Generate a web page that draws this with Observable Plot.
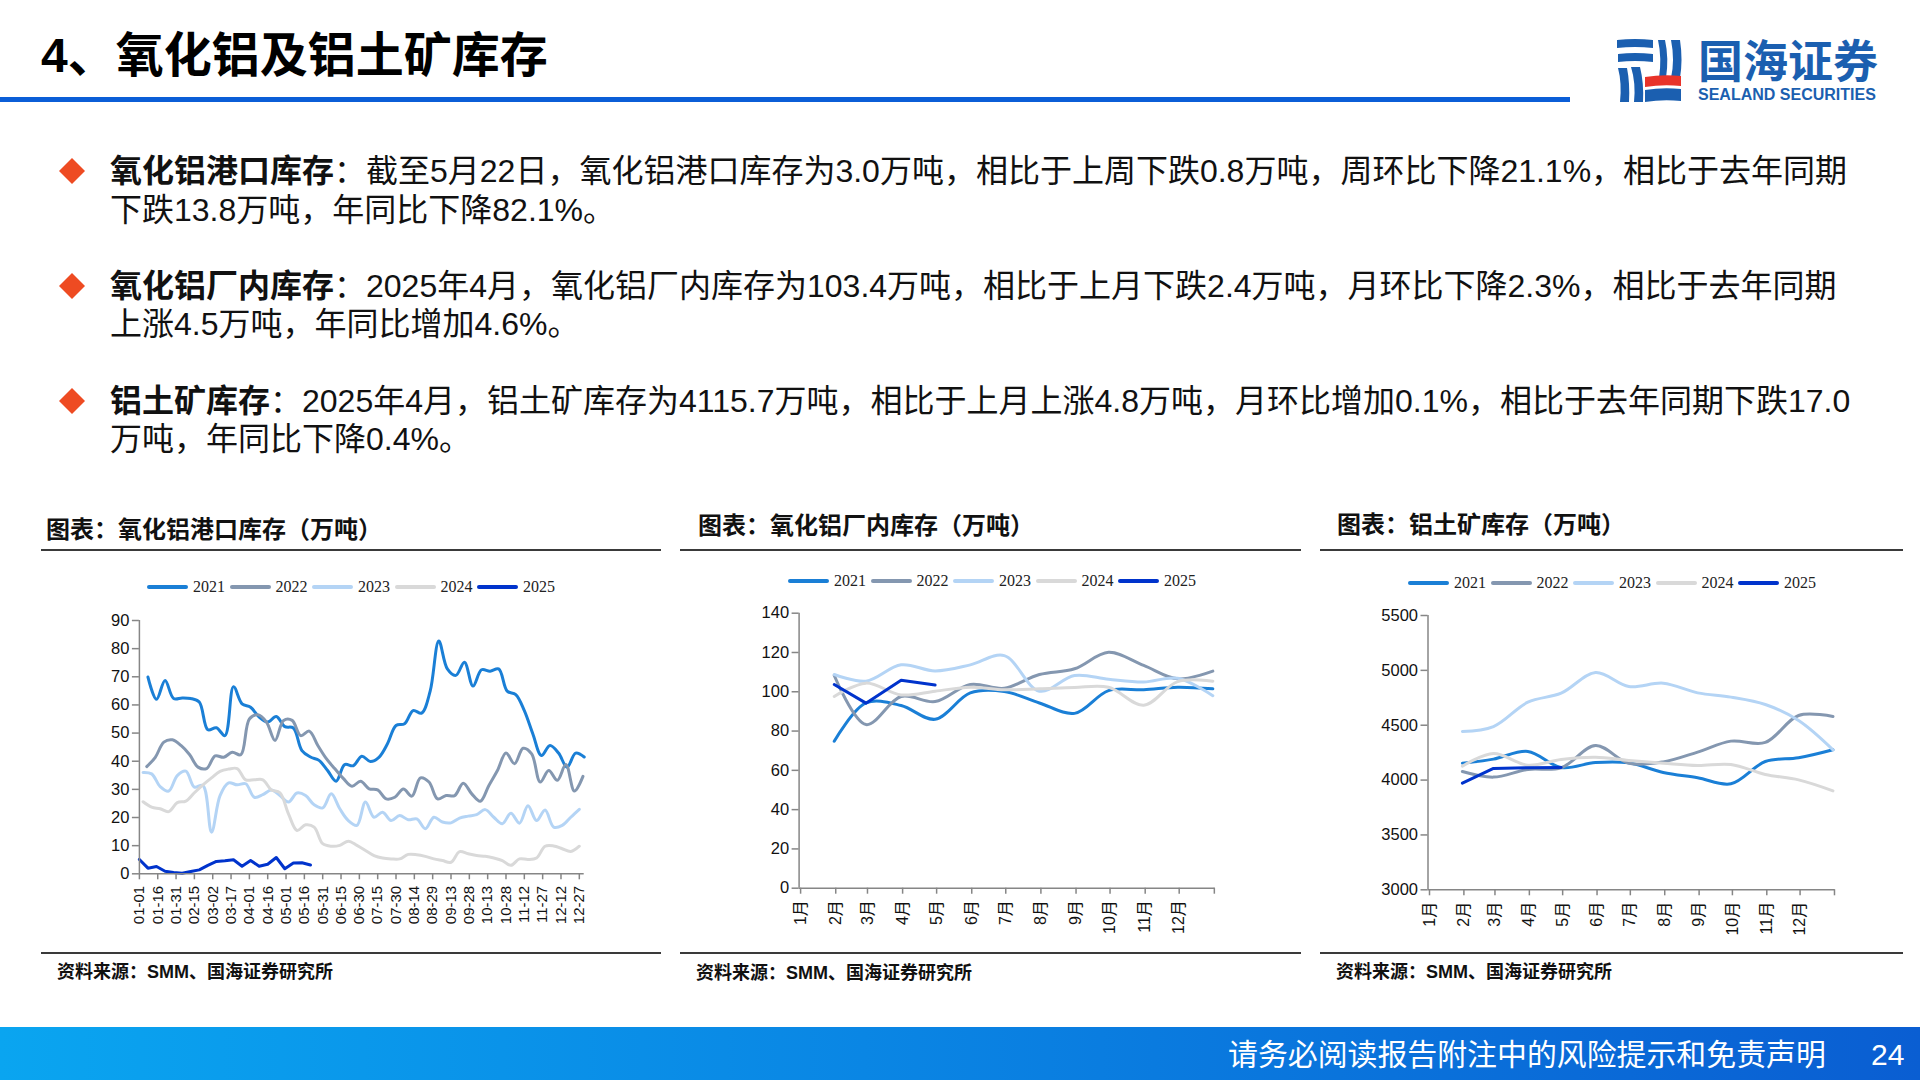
<!DOCTYPE html>
<html lang="zh-CN">
<head>
<meta charset="utf-8">
<script src="https://cdn.jsdelivr.net/npm/d3@7"></script>
<script src="https://cdn.jsdelivr.net/npm/@observablehq/plot@0.6"></script>
<style>
  html, body { margin: 0; padding: 0; background: #fff; }
  body { width: 1920px; height: 1080px; position: relative; overflow: hidden; color: #111;
         font-family: "Liberation Sans", "Noto Sans CJK SC", sans-serif; }
  .abs { position: absolute; white-space: nowrap; }
  .line { font-size: 32px; line-height: 38px; left: 110px; }
  .line b { font-weight: 700; }
  .diamond { width: 26px; height: 26px; left: 59px; background: #ee4b22; clip-path: polygon(50% 0, 100% 50%, 50% 100%, 0 50%); }
  .sec { font-size: 24px; line-height: 28px; font-weight: 700; }
  .src { font-size: 18px; line-height: 22px; font-weight: 700; }
  .hr { height: 2px; background: #3a3a3a; }
  .legend { display: flex; align-items: center; font-family: "Liberation Serif", serif; font-size: 16px; color: #222; }
  .legend i { display: block; width: 41px; height: 3.5px; border-radius: 2px; margin-right: 5px; }
  .legend span { width: 31px; margin-right: 5.5px; }
  .chart { position: absolute; }
  .chart svg { overflow: visible; background: transparent; }
</style>
</head>
<body>
<div id="page"></div>
<script>
const years = ["2021", "2022", "2023", "2024", "2025"];
const yearColors = ["#1a7fd6", "#8497b0", "#b4d4f5", "#d9d9d9", "#0033cc"];

// 氧化铝港口库存: weekly readings, first reading's day of year in portStart
const portStart = [7, 6, 3, 3, 0];
const port2021 = [69.9, 62, 68.7, 62.3, 62.5, 62.3, 61, 51.2, 51.9, 49.1, 66.5, 60.4, 59.2, 55.7, 53.9, 55.9, 52.3, 51.8, 43.8, 41.5, 40.3, 36.7, 32.9, 38.8, 38.4, 41.8, 39.9, 41.4, 46.2, 52.7, 53.3, 58, 57.1, 65, 82.7, 72.8, 70.5, 75.2, 66.7, 72.5, 72, 72.8, 64.9, 63.7, 58, 49.7, 42, 45.6, 42.9, 37.9, 42.9, 41.5];
const port2022 = [38.1, 41.4, 46.8, 47.6, 45.6, 42.4, 37.9, 37.4, 41.9, 41.4, 43.2, 42.3, 55, 56.5, 53.9, 47.4, 54.5, 54.5, 49.1, 50.7, 45.6, 40.9, 37.3, 33.8, 31.1, 32.9, 30.2, 29.8, 26.6, 27.2, 30.1, 27.6, 34.1, 32.6, 26.6, 27.8, 27.8, 32.2, 28.4, 25.8, 31.4, 36.7, 42.9, 39.1, 44.6, 42.6, 32.6, 36.7, 33.2, 38.8, 29.4, 34.6];
const port2023 = [36, 35.5, 31, 29.4, 34.9, 36.5, 30.8, 31.4, 14.8, 27.8, 32.3, 31.6, 32, 27.2, 28.1, 29.8, 27.8, 25.5, 28.7, 27.8, 24.5, 23.4, 28.4, 23.1, 18.9, 17.2, 25.5, 20.1, 21.9, 18.9, 20.7, 19.2, 19.5, 16, 20.1, 18.4, 18.1, 19.8, 20.5, 21, 22.8, 20.1, 17.8, 21.5, 18, 24.2, 18.9, 22.7, 16.6, 17.2, 20.1, 22.9];
const port2024 = [25.6, 23.7, 23.1, 22.1, 25.3, 25.8, 28.8, 31.6, 34.1, 36.4, 37.2, 37.4, 33.4, 33.4, 33.4, 29.8, 28.8, 21.3, 15.4, 17.4, 16.6, 10.7, 9.8, 10.1, 11.6, 10.1, 8.3, 6.5, 5.6, 5.3, 5.3, 6.9, 6.8, 6.2, 5.3, 4.7, 4.1, 7.9, 7.1, 6.5, 6.2, 5.6, 4.7, 3, 5.3, 5.1, 5.6, 9.8, 9.9, 8.9, 7.9, 9.8];
const port2025 = [5.1, 2, 2.6, 0.9, 0.5, 0.2, 0.8, 1.4, 3, 4.4, 4.6, 5, 2.7, 4.7, 2.7, 3.4, 5.8, 1.8, 3.8, 3.9, 3.1];
const portTickLabels = ["01-01", "01-16", "01-31", "02-15", "03-02", "03-17", "04-01", "04-16", "05-01", "05-16", "05-31", "06-15", "06-30", "07-15", "07-30", "08-14", "08-29", "09-13", "09-28", "10-13", "10-28", "11-12", "11-27", "12-12", "12-27"];
const portTicks = [0, 10, 20, 30, 40, 50, 60, 70, 80, 90];

// 氧化铝厂内库存: monthly readings from 2月 tick onward
const plant2021 = [74.8, 94.3, 93, 86, 99.4, 100.1, 94.3, 89, 100.6, 101, 102.3, 101.5];
const plant2022 = [108.3, 83.3, 97.6, 95, 103.7, 101.8, 108.8, 111.7, 120.1, 113.4, 106.6, 110.5];
const plant2023 = [108.8, 105.4, 113.7, 110.6, 113.7, 118.4, 100.3, 108.3, 106.4, 105, 106.9, 98];
const plant2024 = [97.6, 104.4, 98.4, 100.3, 102.3, 101, 101.5, 102.2, 102.3, 93.2, 105.2, 105.4];
const plant2025 = [103.7, 94.2, 105.9, 103.4];
const plantTicks = [0, 20, 40, 60, 80, 100, 120, 140];

// 铝土矿库存
const ore2021 = [4154, 4191, 4261, 4115, 4160, 4157, 4069, 4021, 3966, 4169, 4203, 4276];
const ore2022 = [4078, 4027, 4097, 4112, 4315, 4154, 4166, 4255, 4355, 4343, 4589, 4580];
const ore2023 = [4443, 4488, 4710, 4792, 4980, 4853, 4883, 4795, 4756, 4689, 4543, 4276];
const ore2024 = [4127, 4242, 4136, 4188, 4209, 4179, 4154, 4133, 4142, 4051, 4002, 3902];
const ore2025 = [3972, 4106, 4112, 4115];
const oreTicks = [3000, 3500, 4000, 4500, 5000, 5500];

const monthStarts = [0, 31, 59, 90, 120, 151, 181, 212, 243, 273, 304, 334, 365];
const monthLabels = ["1月", "2月", "3月", "4月", "5月", "6月", "7月", "8月", "9月", "10月", "11月", "12月", ""];

const bullets = [
  ["氧化铝港口库存", "：截至5月22日，氧化铝港口库存为3.0万吨，相比于上周下跌0.8万吨，周环比下降21.1%，相比于去年同期", "下跌13.8万吨，年同比下降82.1%。"],
  ["氧化铝厂内库存", "：2025年4月，氧化铝厂内库存为103.4万吨，相比于上月下跌2.4万吨，月环比下降2.3%，相比于去年同期", "上涨4.5万吨，年同比增加4.6%。"],
  ["铝土矿库存", "：2025年4月，铝土矿库存为4115.7万吨，相比于上月上涨4.8万吨，月环比增加0.1%，相比于去年同期下跌17.0", "万吨，年同比下降0.4%。"]
];

const page = d3.select("#page");
const put = (cls, left, top, html) => page.append("div").attr("class", "abs " + cls)
  .style("left", left == null ? null : left + "px").style("top", top + "px").html(html || "");

// header
put("", 41, 21, "4、氧化铝及铝土矿库存").style("font-size", "48px").style("line-height", "70px").style("font-weight", 700).style("color", "#000");
put("", 0, 97, "").style("width", "1570px").style("height", "5px").style("background", "#0b5ed7");
page.append("div").attr("class", "abs").style("left", "1617px").style("top", "38px").html(`
  <svg width="66" height="66" viewBox="0 0 66 66">
    <g fill="#1b5fb0">
      <path d="M0 2 Q18 0 36 2 V10 Q18 8 0 10Z"/><path d="M1 16 Q18 14 36 16 V24 Q18 22 1 24Z"/>
      <path d="M1 30 Q5 45 3 64 H12 Q13 45 10 30Z"/><path d="M14 29 Q19 45 17 64 H26 Q27 45 23 29Z"/>
      <path d="M41 2 Q45 20 42 40 H49 Q52 20 48 2Z"/><path d="M54 2 Q58 22 54 40 H63 Q66 22 63 2Z"/>
      <path d="M28 52 Q46 49 64 51 V63 Q46 61 28 64Z"/>
    </g>
    <path d="M28 39 Q46 36 64 38 V48 Q46 46 28 49Z" fill="#e8332a"/>
  </svg>`);
put("", 1698, 38, "国海证券").style("font-size", "45px").style("line-height", "50px").style("font-weight", 700).style("color", "#1b5fb0");
put("", 1698, 86, "SEALAND SECURITIES").style("font-size", "16px").style("line-height", "18px").style("font-weight", 700).style("color", "#1b5fb0");

// bullets
const bulletTops = [152, 267, 382];
const secondLineGap = [39, 38, 38];
bullets.forEach((b, i) => {
  put("diamond", 59, bulletTops[i] + 6);
  put("line", 110, bulletTops[i], `<b>${b[0]}</b>${b[1]}`);
  put("line", 110, bulletTops[i] + secondLineGap[i], b[2]);
});

// section heads and rules
put("sec", 46, 516, "图表：氧化铝港口库存（万吨）");
put("sec", 698, 512, "图表：氧化铝厂内库存（万吨）");
put("sec", 1337, 511, "图表：铝土矿库存（万吨）");
[[41, 620], [680, 621], [1320, 583]].forEach(([l, w]) => {
  put("hr", l, 549).style("width", w + "px");
  put("hr", l, 952).style("width", w + "px");
});
put("src", 57, 961, "资料来源：SMM、国海证券研究所");
put("src", 696, 962, "资料来源：SMM、国海证券研究所");
put("src", 1336, 961, "资料来源：SMM、国海证券研究所");

function legend(left, top) {
  const g = put("legend", left, top);
  years.forEach((y, i) => {
    g.append("i").style("background", yearColors[i]);
    g.append("span").text(y);
  });
}
legend(147, 578);
legend(788, 572);
legend(1408, 574);

function rowsOf(series, xOf) {
  return series.flatMap((vals, s) => vals.map((v, i) => ({year: years[s], x: xOf(i, s), y: v})));
}

function drawChart({rows, xDomain, yDomain, yTicks, xTicks, xFormat, box, tickDx, xFont}) {
  const axisGrey = "#868686";
  const chart = Plot.plot({
    width: box.width,
    height: box.height,
    marginLeft: box.left,
    marginRight: box.right,
    marginTop: box.top,
    marginBottom: box.bottom,
    style: {fontFamily: '"Liberation Sans", "Noto Sans CJK SC", sans-serif', color: "#111"},
    x: {domain: xDomain, label: null},
    y: {domain: yDomain, label: null},
    marks: [
      years.map((y, i) => Plot.line(rows.filter(d => d.year === y), {
        x: "x", y: "y",
        stroke: yearColors[i],
        strokeWidth: 3,
        curve: y === "2025" ? "linear" : "catmull-rom"
      })),
      Plot.ruleX([xDomain[0]], {stroke: axisGrey, strokeWidth: 1.5}),
      Plot.ruleY([yDomain[0]], {stroke: axisGrey, strokeWidth: 1.5}),
      Plot.axisY(yTicks, {anchor: "left", label: null, tickSize: 7, tickPadding: 3, fontSize: 16.5, stroke: axisGrey, strokeWidth: 1.5, tickFormat: d => String(d)}),
      Plot.axisX(xTicks, {anchor: "bottom", label: null, tickSize: 6, tickPadding: 6, tickRotate: -90, fontSize: xFont, stroke: axisGrey, strokeWidth: 1.5, tickFormat: xFormat, textAnchor: "end", dx: tickDx})
    ]
  });
  const holder = page.append("div").attr("class", "chart")
    .style("left", box.x + "px").style("top", box.y + "px");
  holder.append(() => chart);
}

// port chart
const portDays = portTickLabels.map((d, i) => i * 15);
drawChart({
  rows: rowsOf([port2021, port2022, port2023, port2024, port2025], (i, s) => portStart[s] + i * 7),
  xDomain: [0, 364], yDomain: [0, 90], yTicks: portTicks,
  xTicks: portDays, xFormat: d => portTickLabels[d / 15], tickDx: 0, xFont: 15,
  box: {x: 40, y: 600, width: 620, height: 350, left: 98.9, right: 76.3, top: 20, bottom: 76.7}
});

// plant chart
const monthRows = set => rowsOf(set, i => monthStarts[i + 1]);
const monthFormat = d => monthLabels[monthStarts.indexOf(d)];
drawChart({
  rows: monthRows([plant2021, plant2022, plant2023, plant2024, plant2025]),
  xDomain: [0, 367], yDomain: [0, 140], yTicks: plantTicks,
  xTicks: monthStarts, xFormat: monthFormat, tickDx: 1.5, xFont: 16,
  box: {x: 680, y: 600, width: 620, height: 350, left: 118.6, right: 85.4, top: 12.7, bottom: 62.3}
});

// ore chart
drawChart({
  rows: monthRows([ore2021, ore2022, ore2023, ore2024, ore2025]),
  xDomain: [0, 367], yDomain: [3000, 5500], yTicks: oreTicks,
  xTicks: monthStarts, xFormat: monthFormat, tickDx: 1.5, xFont: 16,
  box: {x: 1320, y: 600, width: 580, height: 350, left: 107.5, right: 65.3, top: 15, bottom: 60.7}
});

// footer
put("", 0, 1027, "").style("width", "1920px").style("height", "53px")
  .style("background", "linear-gradient(90deg, #0aa5f0 0%, #0a86e4 45%, #0a5ed2 100%)");
put("", 1228, 1036, "请务必阅读报告附注中的风险提示和免责声明").style("font-size", "29.9px").style("line-height", "38px").style("color", "#fff");
put("", 1871, 1036, "24").style("font-size", "30px").style("line-height", "38px").style("color", "#fff");
</script>
</body>
</html>
